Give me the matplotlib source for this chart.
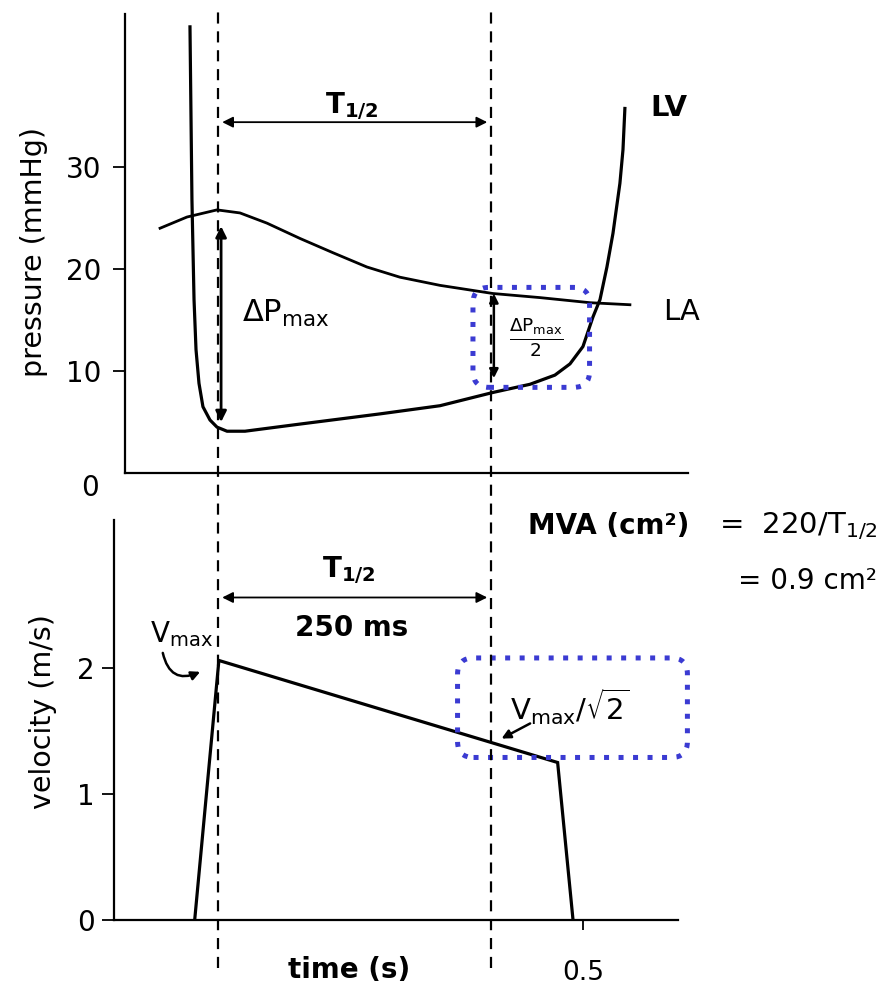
import matplotlib
matplotlib.use('Agg')
import matplotlib.pyplot as plt
from matplotlib.patches import FancyBboxPatch
from matplotlib.lines import Line2D
from matplotlib.transforms import IdentityTransform, blended_transform_factory

plt.rcParams['font.family'] = ['DejaVu Sans']
plt.rcParams['mathtext.fontset'] = 'dejavusans'

# -------------------------------------------------------------------------------------
# Data (time in s)
lv_time = [0.1427, 0.1445, 0.1464, 0.1482, 0.1509, 0.1545, 0.1609, 0.1673, 0.1764,
           0.1927, 0.2427, 0.3155, 0.3700, 0.4182, 0.4518, 0.4745, 0.4882, 0.5000,
           0.5091, 0.5155, 0.5218, 0.5273, 0.5336, 0.5364, 0.5382]
lv_pressure = [43.9, 26.8, 17.0, 12.1, 8.8, 6.5, 5.2, 4.5, 4.1,
               4.1, 4.8, 5.8, 6.6, 7.9, 8.7, 9.6, 10.7, 12.4,
               15.3, 17.0, 20.2, 23.5, 28.4, 31.7, 35.9]

la_time = [0.1155, 0.1400, 0.1673, 0.1882, 0.2127, 0.2427, 0.2727, 0.3036,
           0.3336, 0.3700, 0.4182, 0.4609, 0.5064, 0.5427]
la_pressure = [24.0, 25.1, 25.8, 25.5, 24.5, 23.0, 21.6, 20.2,
               19.2, 18.4, 17.6, 17.2, 16.7, 16.5]

vel_time = [0.147, 0.169, 0.477, 0.491]
vel_value = [0.0, 2.06, 1.25, 0.0]

t_half_start = 0.168
t_half_end = 0.416
dp_max_top, dp_max_bottom = 24.2, 5.0
dp_half_top, dp_half_bottom = 17.6, 9.3

pressure_ticks = [10, 20, 30]
velocity_ticks = [0, 1, 2]
time_ticks = [0.5]

BLUE = '#3b3bd2'
FS = 20
# -------------------------------------------------------------------------------------

fig = plt.figure(figsize=(8.8, 9.89), dpi=100)
ax1 = fig.add_axes([0.1420, 0.5217, 0.6398, 0.4641])
ax2 = fig.add_axes([0.1295, 0.0698, 0.6409, 0.4044])

for ax in (ax1, ax2):
    for s in ('top', 'right'):
        ax.spines[s].set_visible(False)
    for s in ('left', 'bottom'):
        ax.spines[s].set_linewidth(1.6)

# -------------------------------------------------------------------------------------
# Pressure panel
ax1.plot(lv_time, lv_pressure, color='black', lw=2.3, solid_capstyle='butt')
ax1.plot(la_time, la_pressure, color='black', lw=2.0)
ax1.set_xlim(0.0836, 0.5955)
ax1.set_ylim(0, 45)
ax1.set_xticks([])
ax1.set_yticks(pressure_ticks)
ax1.tick_params(axis='y', length=9, width=1.3, labelsize=FS, pad=8)
ax1.text(0.052, -1.5, '0', fontsize=FS, ha='center', va='center', clip_on=False)
ax1.set_ylabel('pressure (mmHg)', fontsize=FS + 0.5)
ax1.yaxis.set_label_coords(-0.162, 0.481)
ax1.yaxis.label.set_va('center')

ax1.annotate('', xy=(t_half_start + 0.004, 34.4), xytext=(t_half_end - 0.003, 34.4),
             arrowprops=dict(arrowstyle='<|-|>', color='black', lw=1.3, mutation_scale=16,
                             shrinkA=0, shrinkB=0))
ax1.text(0.290, 36.0, r'T$\mathbf{_{1/2}}$', fontsize=FS, fontweight='bold',
         ha='center', va='center')
ax1.annotate('', xy=(0.171, dp_max_top), xytext=(0.171, dp_max_bottom),
             arrowprops=dict(arrowstyle='<|-|>', color='black', lw=2.0, mutation_scale=16,
                             shrinkA=0, shrinkB=0))
ax1.text(0.190, 15.6, r'$\Delta$P$_{\mathrm{max}}$', fontsize=FS + 2,
         ha='left', va='center')
ax1.annotate('', xy=(0.419, dp_half_top), xytext=(0.419, dp_half_bottom),
             arrowprops=dict(arrowstyle='<|-|>', color='black', lw=1.8, mutation_scale=13,
                             shrinkA=0, shrinkB=0))
ax1.text(0.458, 13.3, r'$\frac{\Delta \mathrm{P}_{\mathrm{max}}}{2}$', fontsize=19,
         ha='center', va='center')
ax1.text(0.578, 35.8, 'LV', fontsize=FS + 1, fontweight='bold', ha='center', va='center',
         clip_on=False)
ax1.text(0.590, 15.8, 'LA', fontsize=FS + 1, ha='center', va='center', clip_on=False)

# -------------------------------------------------------------------------------------
# Velocity panel
ax2.plot(vel_time, vel_value, color='black', lw=2.3, solid_joinstyle='miter')
ax2.set_xlim(0.0736, 0.5864)
ax2.set_ylim(0, 3.175)
ax2.set_yticks(velocity_ticks)
ax2.set_xticks(time_ticks)
ax2.set_xticklabels(['0.5'])
ax2.tick_params(axis='y', length=9, width=1.3, labelsize=FS, pad=5)
ax2.tick_params(axis='x', length=7, width=1.3, labelsize=FS - 1, pad=22)
ax2.set_ylabel('velocity (m/s)', fontsize=FS + 0.5)
ax2.yaxis.set_label_coords(-0.126, 0.52)
ax2.yaxis.label.set_va('center')

ax2.annotate('', xy=(t_half_start + 0.004, 2.56), xytext=(t_half_end - 0.003, 2.56),
             arrowprops=dict(arrowstyle='<|-|>', color='black', lw=1.3, mutation_scale=16,
                             shrinkA=0, shrinkB=0))
ax2.text(0.287, 2.78, r'T$\mathbf{_{1/2}}$', fontsize=FS, fontweight='bold',
         ha='center', va='center')
ax2.text(0.290, 2.32, '250 ms', fontsize=FS, fontweight='bold', ha='center', va='center')
ax2.text(0.106, 2.27, r'V$_{\mathrm{max}}$', fontsize=FS, ha='left', va='center')
ax2.annotate('', xy=(0.152, 1.97), xytext=(0.118, 2.12),
             arrowprops=dict(arrowstyle='-|>', color='black', lw=1.8, mutation_scale=13,
                             shrinkA=0, shrinkB=0, connectionstyle='arc3,rad=0.6'))
ax2.text(0.434, 1.69, r'V$_{\mathrm{max}}$/$\sqrt{2}$', fontsize=FS + 1,
         ha='left', va='center')
ax2.annotate('', xy=(0.426, 1.44), xytext=(0.452, 1.56),
             arrowprops=dict(arrowstyle='-|>', color='black', lw=1.8, mutation_scale=13,
                             shrinkA=0, shrinkB=0))

fig.text(0.600, 0.468, 'MVA (cm²)', fontsize=FS, fontweight='bold', ha='left', va='center')
fig.text(0.997, 0.468, r'=  220/T$_{1/2}$', fontsize=FS + 1, ha='right', va='center')
fig.text(0.997, 0.4125, '= 0.9 cm²', fontsize=FS, ha='right', va='center')
fig.text(0.3966, 0.0192, 'time (s)', fontsize=FS, fontweight='bold',
         ha='center', va='center')

# -------------------------------------------------------------------------------------
# Dashed guide lines spanning both panels
trans = blended_transform_factory(ax2.transData, fig.transFigure)
for t in (t_half_start, t_half_end):
    fig.add_artist(Line2D([t, t], [0.0212, 0.9899], transform=trans, color='black',
                          lw=1.6, linestyle=(0, (5, 3.5))))


# -------------------------------------------------------------------------------------
# Blue dotted highlight boxes
def dotted_box(ax, x0, x1, y0, y1):
    (px0, py0) = ax.transData.transform((x0, y0))
    (px1, py1) = ax.transData.transform((x1, y1))
    box = FancyBboxPatch((px0, py0), px1 - px0, py1 - py0,
                         boxstyle='round,pad=0,rounding_size=16',
                         transform=IdentityTransform(), fill=False,
                         edgecolor=BLUE, lw=3.6, linestyle=(0, (1, 1.9)),
                         capstyle='butt')
    fig.add_artist(box)


dotted_box(ax1, 0.400, 0.506, 8.4, 18.2)
dotted_box(ax2, 0.386, 0.595, 1.29, 2.08)

fig.savefig('out.png', dpi=100, facecolor='white')
